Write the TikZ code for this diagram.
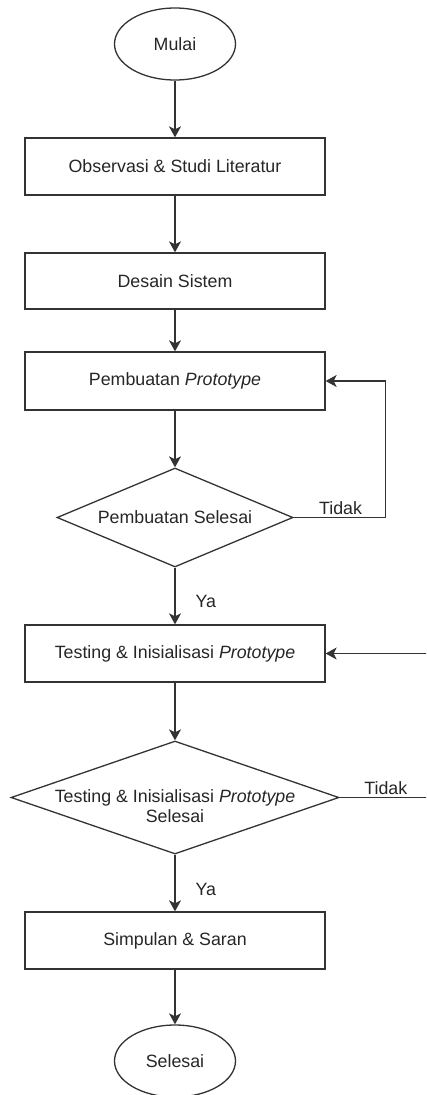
\documentclass[tikz,border=0pt]{standalone}
\usepackage{fontspec}
\setmainfont{Liberation Sans}
\usetikzlibrary{shapes.geometric,arrows.meta,positioning}

\begin{document}
\begin{tikzpicture}[
    node distance=56.7pt,
    every node/.style={font=\fontsize{17.8}{20}\selectfont, text=black!85},
    terminal/.style={draw=black!80, line width=1.3pt, ellipse, minimum width=121pt, minimum height=72pt, inner sep=0pt},
    block/.style={draw=black!80, line width=1.3pt, minimum width=300pt, minimum height=57pt, align=center},
    decision/.style={draw=black!80, line width=1.3pt, diamond, align=center, inner sep=-6pt},
    lbl/.style={inner sep=2pt},
    line/.style={draw=black!80, line width=1.3pt},
    arrow/.style={line, -{Stealth[length=11pt,width=12pt,inset=3pt]}}
]
\useasboundingbox (0,0) rectangle (426pt,-1095pt);
\clip (0,0) rectangle (426pt,-1095pt);
\node[terminal] (mulai) at (175pt,-44pt) {Mulai};
\node[block, below=of mulai] (obs) {Observasi \& Studi Literatur};
\node[block, below=of obs, minimum height=56pt] (desain) {Desain Sistem};
\node[block, below=41.7pt of desain, minimum height=58pt] (buat) {Pembuatan \textit{Prototype}};
\node[decision, aspect=2.38, below=of buat, minimum width=236pt, minimum height=99pt] (cek_buat) {Pembuatan Selesai};
\node[block, below=of cek_buat] (test) {Testing \& Inisialisasi \textit{Prototype}};
\node[decision, aspect=2.9, inner xsep=-20pt, below=57.7pt of test, minimum width=328pt, minimum height=113pt] (cek_test) {\rule{0pt}{30pt}Testing \& Inisialisasi \textit{Prototype}\\Selesai};
\node[block, below=of cek_test] (simpul) {Simpulan \& Saran};
\node[terminal, below=54.7pt of simpul] (selesai) {Selesai};

\draw[arrow] (mulai) -- (obs);
\draw[arrow] (obs) -- (desain);
\draw[arrow] (desain) -- (buat);
\draw[arrow] (buat) -- (cek_buat);
\draw[arrow] (cek_buat) -- node[lbl, right=18pt, pos=0.6] {Ya} (test);
\draw[arrow] (test) -- (cek_test);
\draw[arrow] (cek_test) -- node[lbl, right=18pt, pos=0.62] {Ya} (simpul);
\draw[arrow] (simpul) -- (selesai);

\coordinate (loop_buat) at ([xshift=92pt]cek_buat.east);
\draw[arrow] (cek_buat.east) -- node[lbl, above, pos=0.51] {Tidak} (loop_buat) |- (buat.east);
\coordinate (loop_test) at ([xshift=110pt]cek_test.east);
\draw[arrow] (cek_test.east) -- node[lbl, above, pos=0.42] {Tidak} (loop_test) |- (test.east);
\end{tikzpicture}
\end{document}
